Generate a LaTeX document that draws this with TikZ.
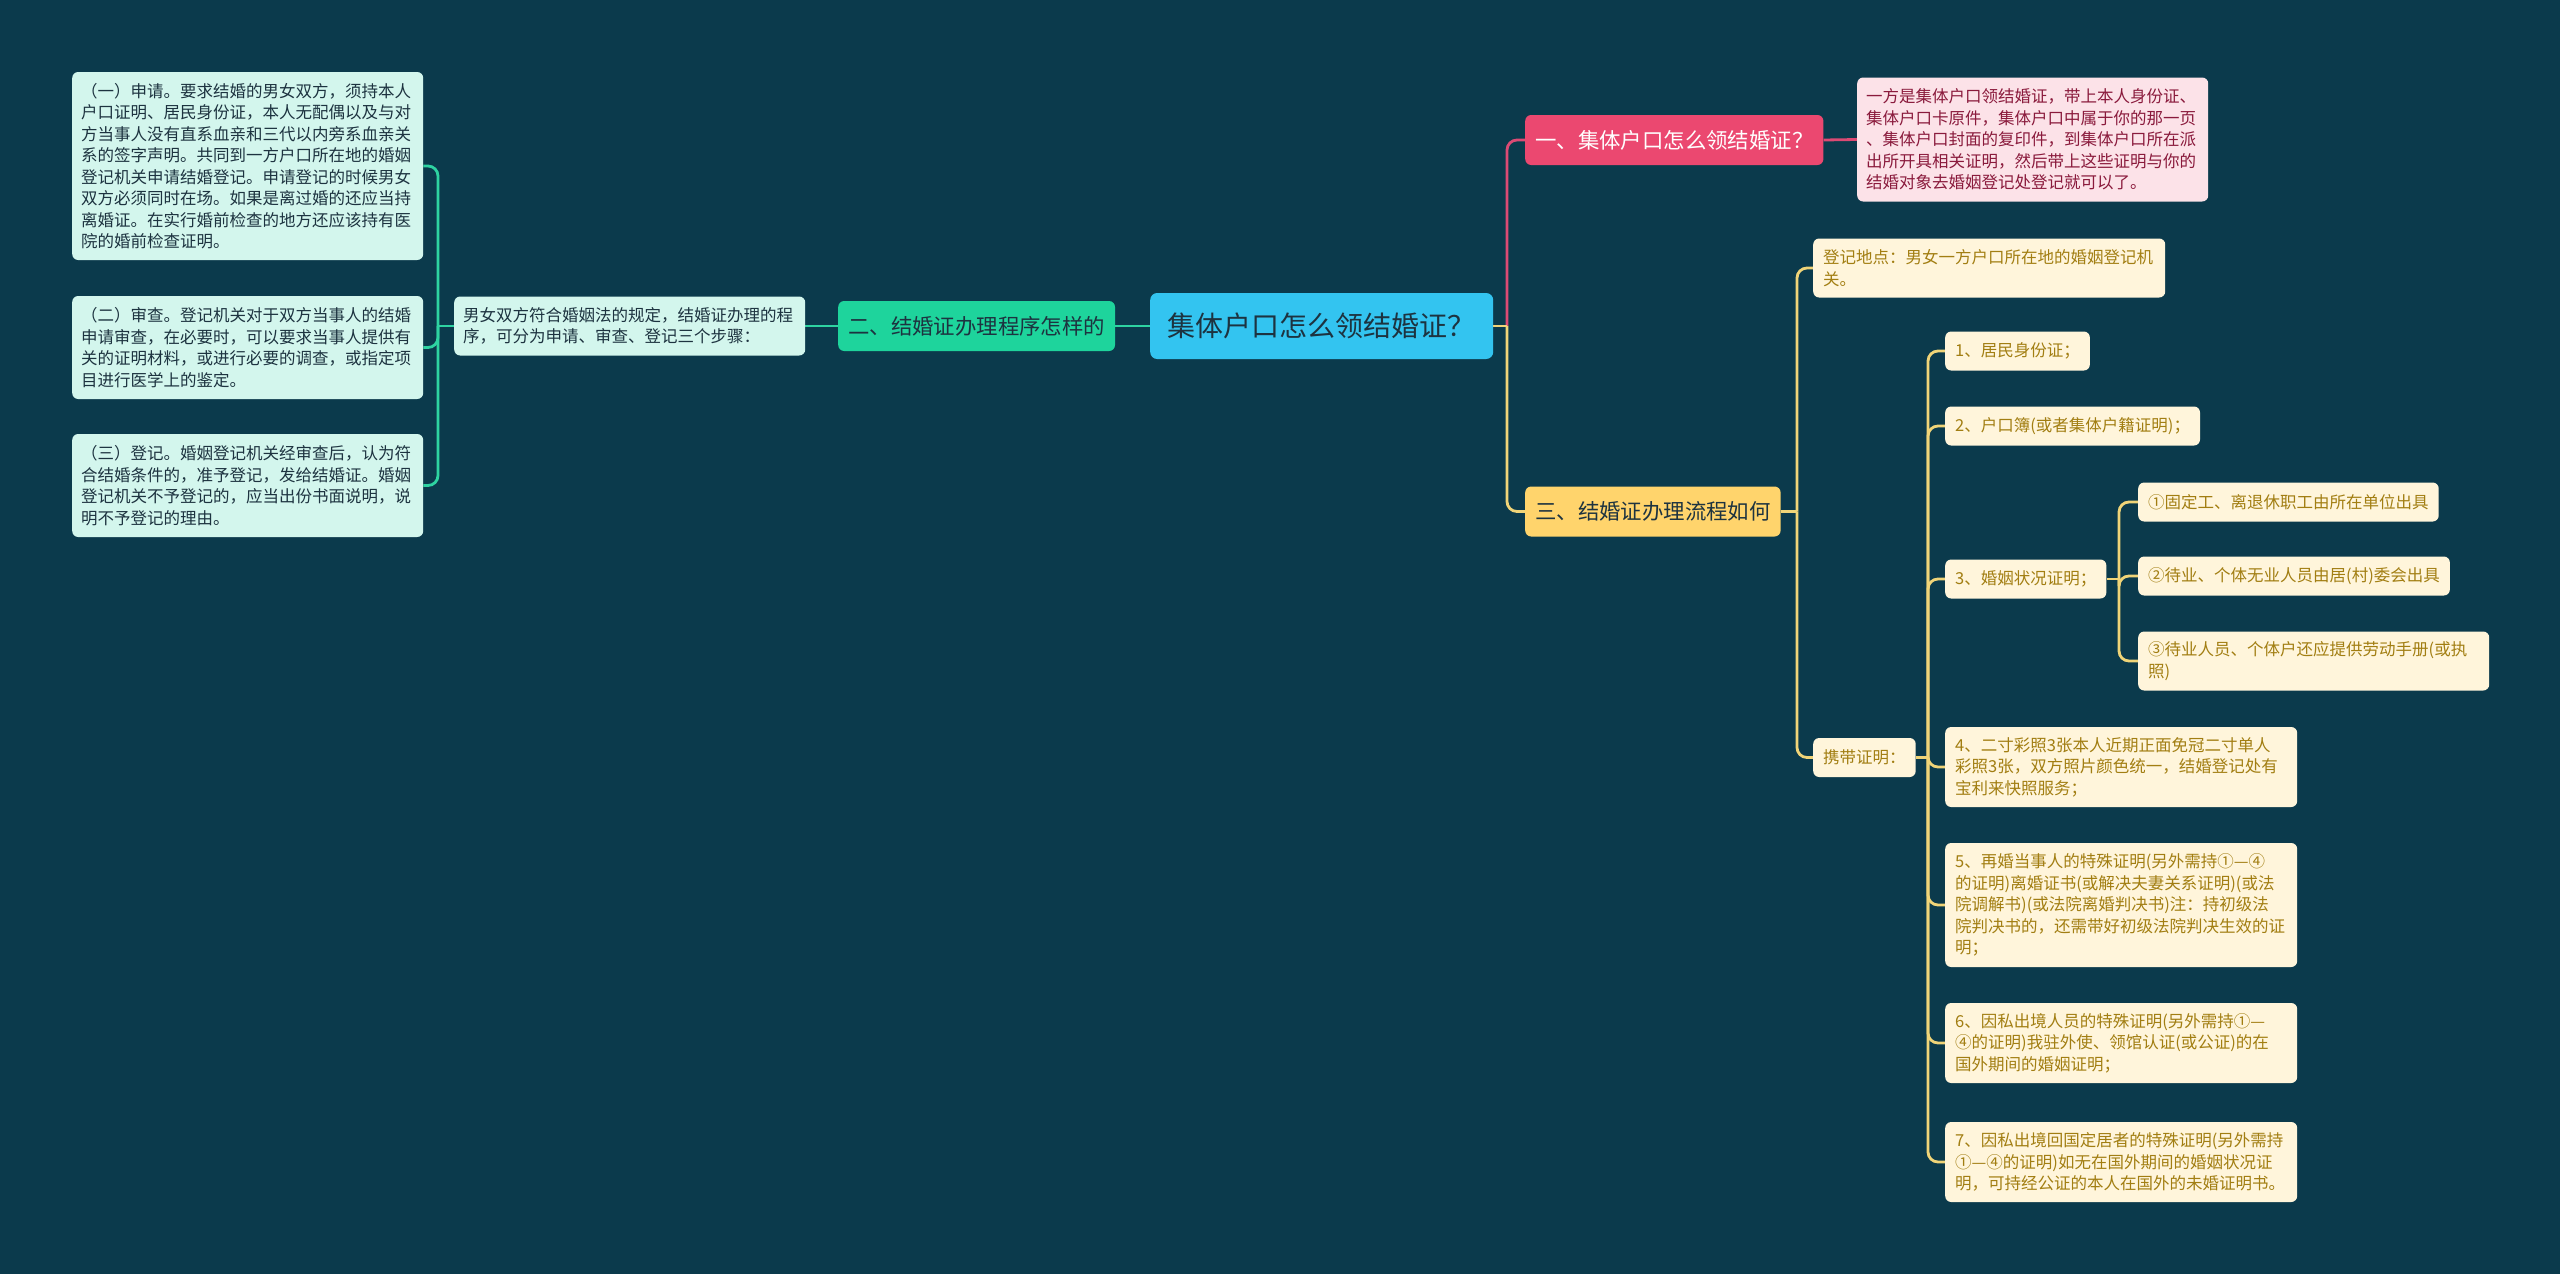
\documentclass[tikz,border=0pt]{standalone}
\usepackage{fontspec}
\setmainfont{Noto Sans CJK SC}
\usetikzlibrary{positioning}
\definecolor{bgc}{HTML}{0B3A4C}
\definecolor{cblue}{HTML}{33C4F0}
\definecolor{ggreen}{HTML}{1ED49C}
\definecolor{mint}{HTML}{D3F6ED}
\definecolor{rred}{HTML}{EB4870}
\definecolor{pinkl}{HTML}{FCE2E8}
\definecolor{pinkt}{HTML}{8A1A3C}
\definecolor{orng}{HTML}{FFD46C}
\definecolor{cream}{HTML}{FFF5DB}
\definecolor{goldt}{HTML}{A27E12}
\definecolor{darkt}{HTML}{1D3340}
\definecolor{glc}{HTML}{2ED3A1}
\definecolor{plc}{HTML}{DC4A74}
\definecolor{ylc}{HTML}{F0D478}
\newcommand\fsA{\fontsize{28}{34}\selectfont}
\newcommand\fsB{\fontsize{21.4}{26}\selectfont}
\newcommand\fsC{\fontsize{16.5}{21.5}\selectfont}
\pgfdeclarelayer{bglayer}
\pgfdeclarelayer{edgelayer}
\pgfsetlayers{bglayer,edgelayer,main}
\tikzset{
  ctr/.style={fill=cblue, text=darkt, rounded corners=7pt, anchor=west, inner xsep=15pt, inner ysep=0pt, minimum height=66pt, minimum width=343pt, font=\fsA},
  brn/.style={rounded corners=6pt, anchor=west, inner xsep=10pt, inner ysep=0pt, minimum height=50pt, font=\fsB},
  leafbase/.style={rounded corners=6pt, anchor=west, inner xsep=9pt, inner ysep=0pt, align=left, font=\fsC, minimum height=39pt},
  mleaf/.style={leafbase, fill=mint, text=darkt},
  pleaf/.style={leafbase, fill=pinkl, text=pinkt},
  yleaf/.style={leafbase, fill=cream, text=goldt, inner xsep=10pt},
  conn/.style={line width=2.8pt, rounded corners=10pt},
  gl/.style={conn, draw=glc},
  pl/.style={conn, draw=plc},
  yl/.style={conn, draw=ylc},
}
\begin{document}
\begin{tikzpicture}[x=1pt,y=-1pt]
\begin{pgfonlayer}{bglayer}
\fill[bgc] (0,0) rectangle (2560,1274);
\end{pgfonlayer}
\useasboundingbox (0,0) rectangle (2560,1274);

% central
\node[ctr] (c) at (1150,326) {集体户口怎么领结婚证？};

% left branch
\node[brn, fill=ggreen, text=darkt] (b2) at (838,326) {二、结婚证办理程序怎样的};
\node[mleaf, text width=333pt, minimum height=59pt] (n) at (454,326) {男女双方符合婚姻法的规定，结婚证办理的程\\序，可分为申请、审查、登记三个步骤：};
\node[mleaf, text width=333pt, minimum height=188pt] (l1) at (72,166) {（一）申请。要求结婚的男女双方，须持本人\\户口证明、居民身份证，本人无配偶以及与对\\方当事人没有直系血亲和三代以内旁系血亲关\\系的签字声明。共同到一方户口所在地的婚姻\\登记机关申请结婚登记。申请登记的时候男女\\双方必须同时在场。如果是离过婚的还应当持\\离婚证。在实行婚前检查的地方还应该持有医\\院的婚前检查证明。};
\node[mleaf, text width=333pt, minimum height=103pt] (l2) at (72,347.5) {（二）审查。登记机关对于双方当事人的结婚\\申请审查，在必要时，可以要求当事人提供有\\关的证明材料，或进行必要的调查，或指定项\\目进行医学上的鉴定。};
\node[mleaf, text width=333pt, minimum height=103pt] (l3) at (72,485.5) {（三）登记。婚姻登记机关经审查后，认为符\\合结婚条件的，准予登记，发给结婚证。婚姻\\登记机关不予登记的，应当出份书面说明，说\\明不予登记的理由。};

% right branch one
\node[brn, fill=rred, text=white] (b1) at (1525,140) {一、集体户口怎么领结婚证？};
\node[pleaf, text width=333pt, minimum height=124pt] (p1) at (1857,139.5) {一方是集体户口领结婚证，带上本人身份证、\\集体户口卡原件，集体户口中属于你的那一页\\、集体户口封面的复印件，到集体户口所在派\\出所开具相关证明，然后带上这些证明与你的\\结婚对象去婚姻登记处登记就可以了。};

% right branch three
\node[brn, fill=orng, text=darkt] (b3) at (1525,511.5) {三、结婚证办理流程如何};
\node[yleaf, text width=332pt, minimum height=59pt] (y0) at (1813,268) {登记地点：男女一方户口所在地的婚姻登记机\\关。};
\node[yleaf] (y1) at (1813,757.5) {携带证明：};
\node[yleaf] (i1) at (1945,351) {1、居民身份证；};
\node[yleaf] (i2) at (1945,426) {2、户口簿(或者集体户籍证明)；};
\node[yleaf] (i3) at (1945,579) {3、婚姻状况证明；};
\node[yleaf, text width=332pt, minimum height=80pt] (i4) at (1945,767) {4、二寸彩照3张本人近期正面免冠二寸单人\\彩照3张，双方照片颜色统一，结婚登记处有\\宝利来快照服务；};
\node[yleaf, text width=332pt, minimum height=124pt] (i5) at (1945,905) {5、再婚当事人的特殊证明(另外需持①—④\\的证明)离婚证书(或解决夫妻关系证明)(或法\\院调解书)(或法院离婚判决书)注：持初级法\\院判决书的，还需带好初级法院判决生效的证\\明；};
\node[yleaf, text width=332pt, minimum height=80pt] (i6) at (1945,1043) {6、因私出境人员的特殊证明(另外需持①—\\④的证明)我驻外使、领馆认证(或公证)的在\\国外期间的婚姻证明；};
\node[yleaf, text width=332pt, minimum height=80pt] (i7) at (1945,1162) {7、因私出境回国定居者的特殊证明(另外需持\\①—④的证明)如无在国外期间的婚姻状况证\\明，可持经公证的本人在国外的未婚证明书。};
\node[yleaf] (s1) at (2138,502) {①固定工、离退休职工由所在单位出具};
\node[yleaf] (s2) at (2138,576) {②待业、个体无业人员由居(村)委会出具};
\node[yleaf, text width=331pt, minimum height=59pt] (s3) at (2138,661) {③待业人员、个体户还应提供劳动手册(或执\\照)};

% junctions
\coordinate (jl) at (438,326);
\coordinate (jr) at (1507,326);
\coordinate (j3) at (1797,511.5);
\coordinate (j4) at (1928,757.5);
\coordinate (j5) at (2119,579);

\begin{pgfonlayer}{edgelayer}
\draw[gl] (c.west) -- (b2.east);
\draw[gl] (b2.west) -- (n.east);
\draw[gl] (n.west) -- (jl);
\draw[gl] (jl) |- (l1.east);
\draw[gl] (jl) |- (l2.east);
\draw[gl] (jl) |- (l3.east);

\draw[pl] (jr) |- (b1.west);
\draw[pl] (b1.east) -- (p1.west);
\draw[yl] (c.east) -- (jr);
\draw[yl] (jr) |- (b3.west);

\draw[yl] (b3.east) -- (j3);
\draw[yl] (j3) |- (y0.west);
\draw[yl] (j3) |- (y1.west);

\draw[yl] (y1.east) -- (j4);
\foreach \t in {i1,i2,i3,i4,i5,i6,i7}{\draw[yl] (j4) |- (\t.west);}

\draw[yl] (i3.east) -- (j5);
\foreach \t in {s1,s2,s3}{\draw[yl] (j5) |- (\t.west);}
\end{pgfonlayer}
\end{tikzpicture}
\end{document}
